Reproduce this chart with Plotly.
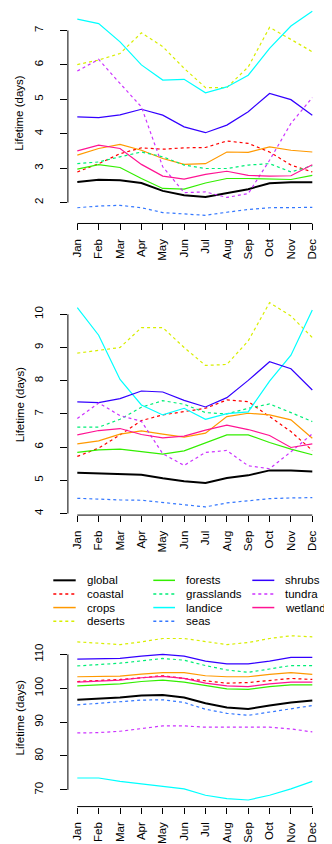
import plotly.graph_objects as go

# The page body has an 8px margin, so the figure is drawn 8px smaller and all
# reference pixel positions are shifted by that offset.
REF_W, REF_H = 332, 844
OFF = 8
W, H = REF_W - OFF, REF_H - OFF

months = ["Jan", "Feb", "Mar", "Apr", "May", "Jun", "Jul", "Aug", "Sep", "Oct", "Nov", "Dec"]
month_idx = list(range(1, 13))
series = ["global", "coastal", "crops", "deserts", "forests", "grasslands",
          "landice", "seas", "shrubs", "tundra", "wetlands"]
colors = ["#000000", "#FF0000", "#FF9900", "#D8EE00", "#33EE00", "#00EE77",
          "#00FFFF", "#3377FF", "#3300FF", "#CC33FF", "#FF1493"]
dashed = [False, True, False, True, False, True, False, True, False, True, False]

# Panel 1
global_1 = [2.60, 2.66, 2.65, 2.57, 2.34, 2.21, 2.16, 2.28, 2.39, 2.56, 2.59, 2.59]
coastal_1 = [2.89, 3.13, 3.42, 3.59, 3.55, 3.59, 3.60, 3.79, 3.72, 3.47, 3.09, 2.89]
crops_1 = [3.38, 3.57, 3.69, 3.52, 3.28, 3.11, 3.13, 3.47, 3.46, 3.62, 3.52, 3.47]
deserts_1 = [6.01, 6.14, 6.33, 6.93, 6.53, 5.90, 5.34, 5.34, 5.94, 7.09, 6.74, 6.38]
forests_1 = [2.97, 3.10, 3.02, 2.70, 2.41, 2.39, 2.57, 2.70, 2.70, 2.68, 2.67, 2.79]
grasslands_1 = [3.13, 3.18, 3.33, 3.47, 3.33, 3.09, 2.99, 2.99, 3.09, 3.13, 2.89, 3.07]
landice_1 = [7.33, 7.20, 6.67, 6.00, 5.56, 5.58, 5.19, 5.36, 5.70, 6.48, 7.13, 7.56]
seas_1 = [1.85, 1.90, 1.92, 1.85, 1.71, 1.66, 1.63, 1.72, 1.80, 1.85, 1.86, 1.86]
shrubs_1 = [4.49, 4.47, 4.55, 4.71, 4.54, 4.20, 4.03, 4.25, 4.64, 5.17, 4.99, 4.54]
tundra_1 = [5.82, 6.16, 5.46, 4.78, 3.04, 2.29, 2.31, 2.15, 2.26, 3.23, 4.30, 5.05]
wetlands_1 = [3.50, 3.67, 3.57, 3.11, 2.77, 2.68, 2.82, 2.91, 2.79, 2.77, 2.78, 3.10]

# Panel 2
global_2 = [5.23, 5.21, 5.18, 5.17, 5.06, 4.97, 4.92, 5.07, 5.15, 5.30, 5.30, 5.27]
coastal_2 = [5.72, 5.97, 6.37, 6.80, 6.97, 7.07, 7.17, 7.42, 7.37, 6.92, 6.47, 5.90]
crops_2 = [6.10, 6.19, 6.39, 6.49, 6.39, 6.30, 6.42, 6.92, 7.02, 6.97, 6.82, 6.27]
deserts_2 = [8.83, 8.92, 9.00, 9.60, 9.60, 9.00, 8.46, 8.49, 9.20, 10.35, 9.95, 9.30]
forests_2 = [5.84, 5.92, 5.94, 5.87, 5.79, 5.89, 6.12, 6.37, 6.37, 6.14, 5.94, 5.77]
grasslands_2 = [6.60, 6.60, 6.84, 7.20, 7.40, 7.29, 7.04, 7.00, 7.17, 7.30, 7.04, 6.77]
landice_2 = [10.20, 9.37, 8.04, 7.27, 6.97, 7.17, 6.84, 7.01, 7.06, 7.99, 8.77, 10.13]
seas_2 = [4.46, 4.43, 4.41, 4.40, 4.33, 4.25, 4.20, 4.32, 4.38, 4.45, 4.47, 4.48]
shrubs_2 = [7.36, 7.34, 7.46, 7.69, 7.66, 7.41, 7.21, 7.49, 8.01, 8.57, 8.36, 7.72]
tundra_2 = [6.86, 7.33, 6.95, 6.78, 5.80, 5.45, 5.84, 5.90, 5.44, 5.35, 5.86, 6.40]
wetlands_2 = [6.37, 6.50, 6.56, 6.38, 6.28, 6.33, 6.51, 6.66, 6.53, 6.35, 5.99, 6.10]

# Panel 3
global_3 = [96.6, 96.9, 97.3, 97.9, 98.0, 97.3, 95.6, 94.3, 93.9, 94.9, 95.8, 96.4]
coastal_3 = [102.0, 102.2, 102.6, 103.1, 103.7, 102.9, 102.2, 101.5, 101.7, 102.2, 102.9, 102.6]
crops_3 = [103.4, 103.4, 103.6, 104.2, 104.6, 104.6, 103.7, 103.4, 103.4, 104.1, 104.6, 104.1]
deserts_3 = [113.7, 113.2, 112.9, 113.7, 114.7, 114.7, 113.9, 112.9, 113.5, 114.7, 115.5, 115.2]
forests_3 = [100.7, 101.0, 101.3, 102.0, 102.4, 101.8, 100.7, 99.8, 99.7, 100.5, 101.0, 101.0]
grasslands_3 = [106.6, 106.9, 107.4, 108.1, 108.8, 108.3, 106.7, 105.4, 104.7, 105.7, 106.7, 106.7]
landice_3 = [73.5, 73.5, 72.5, 71.8, 71.1, 70.3, 68.4, 67.4, 67.0, 68.4, 70.3, 72.5]
seas_3 = [95.1, 95.6, 96.1, 96.5, 96.6, 95.8, 93.8, 92.6, 92.0, 92.9, 93.8, 94.9]
shrubs_3 = [108.6, 108.6, 108.8, 109.5, 110.0, 109.5, 108.0, 107.2, 107.2, 108.0, 109.1, 109.1]
tundra_3 = [86.8, 86.9, 87.3, 88.0, 88.9, 88.9, 88.5, 88.5, 88.4, 88.5, 88.0, 87.1]
wetlands_3 = [101.8, 102.0, 102.4, 103.1, 103.5, 102.9, 101.5, 100.7, 100.5, 101.3, 101.8, 101.8]

y_ticks_1 = [2, 3, 4, 5, 6, 7]
y_ticks_2 = [4, 5, 6, 7, 8, 9, 10]
y_ticks_3 = [70, 80, 90, 100, 110]
y_title = "Lifetime (days)"

panels = [
    [global_1, coastal_1, crops_1, deserts_1, forests_1, grasslands_1,
     landice_1, seas_1, shrubs_1, tundra_1, wetlands_1],
    [global_2, coastal_2, crops_2, deserts_2, forests_2, grasslands_2,
     landice_2, seas_2, shrubs_2, tundra_2, wetlands_2],
    [global_3, coastal_3, crops_3, deserts_3, forests_3, grasslands_3,
     landice_3, seas_3, shrubs_3, tundra_3, wetlands_3],
]
panel_ticks = [y_ticks_1, y_ticks_2, y_ticks_3]


def px_x(px):
    return (px - OFF) / W


def px_y(py):
    return 1 - (py - OFF) / H


# plot regions in reference pixels
x_left_px, x_right_px = 67.9, 321.7
panel_px = [(3.0, 224.0), (295.2, 516.3), (630.7, 808.5)]

FONT = "Liberation Sans, Arial, Helvetica, sans-serif"
FS = 11.5
DASH = "3px,3px"

fig = go.Figure()
shapes = []
annotations = []

for p, data in enumerate(panels):
    xa = "x" if p == 0 else f"x{p + 1}"
    ya = "y" if p == 0 else f"y{p + 1}"
    for name, vals, col, dsh in zip(series, data, colors, dashed):
        fig.add_trace(go.Scatter(
            x=month_idx, y=vals, mode="lines", name=name,
            xaxis=xa, yaxis=ya, showlegend=False,
            line=dict(color=col, width=2.0 if name == "global" else 1.2,
                      dash=DASH if dsh else "solid"),
        ))
    allv = [v for s in data for v in s]
    lo, hi = min(allv), max(allv)
    pad = 0.04 * (hi - lo)
    rlo, rhi = lo - pad, hi + pad
    top, bot = panel_px[p]
    if top < OFF:  # region starts above the visible page area: trim it
        rhi = rlo + (rhi - rlo) * (bot - OFF) / (bot - top)
        top = OFF
    dom_y = [px_y(bot), min(1.0, px_y(top))]
    key = "" if p == 0 else str(p + 1)
    fig.layout["xaxis" + key] = dict(
        domain=[px_x(x_left_px), px_x(x_right_px)], anchor=ya,
        range=[1 - 0.44, 12 + 0.44], tickvals=month_idx, ticktext=months,
        tickangle=-90, ticks="outside", ticklen=6, tickwidth=1, tickcolor="black",
        showline=False, showgrid=False, zeroline=False,
        tickfont=dict(family=FONT, size=FS, color="black"),
        ticklabelstandoff=4,
    )
    fig.layout["yaxis" + key] = dict(
        domain=dom_y, anchor=xa, range=[rlo, rhi],
        tickvals=panel_ticks[p], tickangle=-90,
        ticks="outside", ticklen=7, tickwidth=1, tickcolor="black",
        showline=False, showgrid=False, zeroline=False,
        tickfont=dict(family=FONT, size=FS, color="black"),
        ticklabelstandoff=12,
    )
    shapes.append(dict(type="line", xref=xa, yref=ya + " domain",
                       x0=1, x1=12, y0=0, y1=0,
                       line=dict(color="black", width=1)))
    shapes.append(dict(type="line", xref=xa + " domain", yref=ya,
                       x0=0, x1=0, y0=panel_ticks[p][0], y1=panel_ticks[p][-1],
                       line=dict(color="black", width=1)))
    mid_px = (panel_px[p][0] + panel_px[p][1]) / 2
    annotations.append(dict(
        text=y_title, textangle=-90, xref="paper", yref="paper",
        x=px_x(19.5), y=px_y(mid_px), xanchor="center", yanchor="middle",
        showarrow=False, font=dict(family=FONT, size=FS, color="black"),
    ))

# legend: three columns, filled column by column
legend_cols = [(53.3, 75.7, 85.7), (153.3, 175.0, 185.0), (252.3, 274.3, 284.3)]
legend_rows = [581.7, 595.3, 609.0, 622.7]
for i, (name, col, dsh) in enumerate(zip(series, colors, dashed)):
    c, r = divmod(i, 4)
    x0, x1, xt = legend_cols[c]
    yy = px_y(legend_rows[r])
    shapes.append(dict(type="line", xref="paper", yref="paper",
                       x0=px_x(x0), x1=px_x(x1), y0=yy, y1=yy,
                       line=dict(color=col, width=2.0 if name == "global" else 1.5,
                                 dash=DASH if dsh else "solid")))
    annotations.append(dict(text=name, xref="paper", yref="paper",
                            x=px_x(xt), y=yy, xanchor="left", yanchor="middle",
                            showarrow=False, borderpad=0,
                            font=dict(family=FONT, size=FS, color="black")))

fig.update_layout(
    width=W, height=H, margin=dict(l=0, r=0, t=0, b=0),
    paper_bgcolor="white", plot_bgcolor="white",
    shapes=shapes, annotations=annotations, showlegend=False,
    font=dict(family=FONT, size=FS, color="black"),
)

fig.write_html("out.html")
